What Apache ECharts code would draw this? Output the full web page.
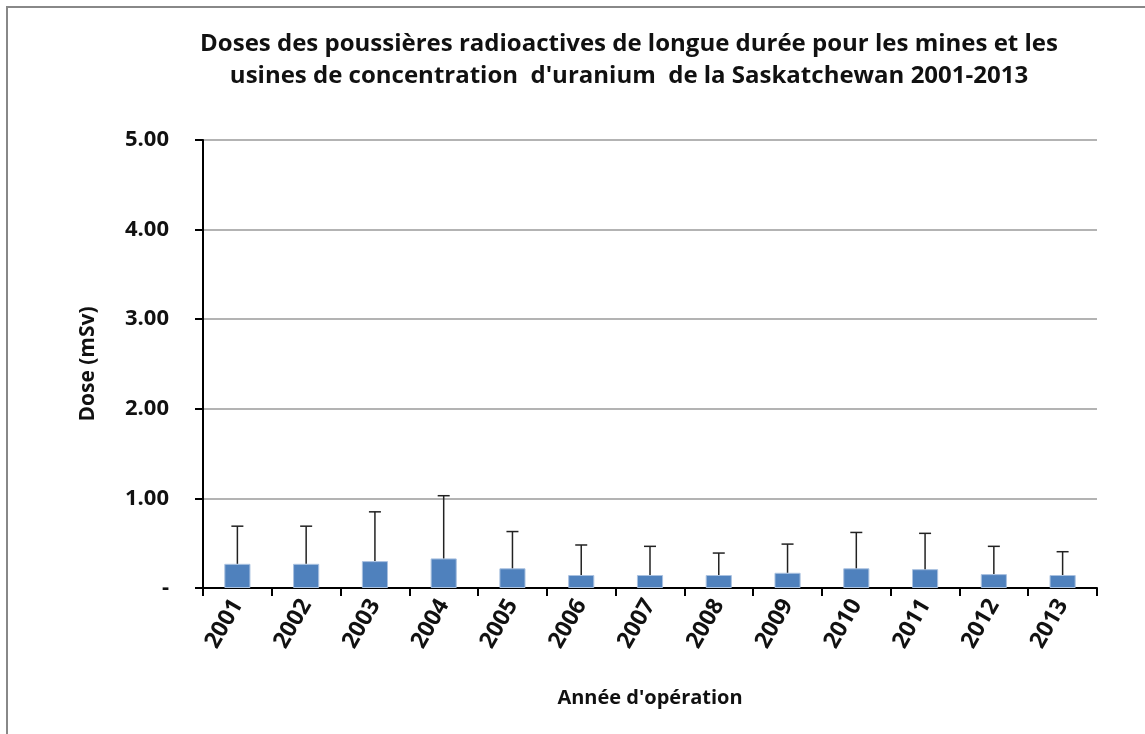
<!DOCTYPE html>
<html>
<head>
<meta charset="utf-8">
<script src="https://cdn.jsdelivr.net/npm/echarts@6/dist/echarts.min.js"></script>
<style>
  html, body { margin: 0; padding: 0; background: #fff; }
  #chart { width: 1145px; height: 734px; }
</style>
</head>
<body>
<div id="chart"></div>
<script>
// 年份
const years = ['2001', '2002', '2003', '2004', '2005', '2006', '2007', '2008', '2009', '2010', '2011', '2012', '2013']
// 平均剂量 (mSv)
const doses = [0.27, 0.27, 0.30, 0.33, 0.22, 0.145, 0.145, 0.145, 0.17, 0.22, 0.21, 0.155, 0.145]
// 误差线（向上的部分）
const errPlus = [0.42, 0.42, 0.55, 0.70, 0.41, 0.335, 0.32, 0.245, 0.32, 0.40, 0.40, 0.31, 0.26]
// y轴刻度
const yTicks = [0, 1, 2, 3, 4, 5]

const font = 'Open Sans'

const myChart = echarts.init(document.querySelector('#chart'))

const option = {
  animation: false,
  title: {
    text: 'Doses des poussières radioactives de longue durée pour les mines et les\nusines de concentration  d\'uranium  de la Saskatchewan 2001-2013',
    left: 624,
    textAlign: 'center',
    top: 23,
    textStyle: {
      fontFamily: font,
      fontWeight: 'bold',
      fontSize: 24,
      lineHeight: 32,
      color: '#111'
    }
  },
  // 外框
  graphic: [
    {
      type: 'rect',
      shape: { x: 7, y: 7, width: 1160, height: 760 },
      style: { fill: 'none', stroke: '#888', lineWidth: 2 }
    }
  ],
  grid: { left: 203, right: 48, top: 140, bottom: 146 },
  xAxis: {
    type: 'category',
    data: years,
    name: 'Année d\'opération',
    nameLocation: 'middle',
    nameGap: 100,
    nameTextStyle: { fontFamily: font, fontWeight: 'bold', fontSize: 20, color: '#111' },
    axisLine: { lineStyle: { color: '#000', width: 2 } },
    axisTick: { show: true, length: 8, lineStyle: { color: '#000', width: 2 } },
    axisLabel: {
      rotate: 60,
      margin: 13,
      fontFamily: font,
      fontWeight: 'bold',
      fontSize: 23,
      color: '#111'
    }
  },
  yAxis: {
    type: 'value',
    min: yTicks[0],
    max: yTicks[yTicks.length - 1],
    interval: 1,
    name: 'Dose (mSv)',
    nameLocation: 'middle',
    nameGap: 104,
    nameTextStyle: { fontFamily: font, fontWeight: 'bold', fontSize: 21, color: '#111' },
    axisLine: { show: true, lineStyle: { color: '#000', width: 2 } },
    axisTick: { show: true, length: 8, lineStyle: { color: '#000', width: 2 } },
    axisLabel: {
      margin: 34,
      fontFamily: font,
      fontWeight: 'bold',
      fontSize: 22,
      color: '#111',
      formatter: v => (v === 0 ? '-' : v.toFixed(2))
    },
    splitLine: { lineStyle: { color: '#9a9a9a', width: 1.5 } }
  },
  series: [
    {
      type: 'bar',
      data: doses,
      barWidth: '38%',
      itemStyle: { color: '#4F81BD', borderColor: '#a9c1e0', borderWidth: 1 }
    },
    {
      // 误差线
      type: 'custom',
      data: years.map((y, i) => [i, doses[i], doses[i] + errPlus[i]]),
      z: 5,
      renderItem: (params, api) => {
        const base = api.coord([api.value(0), api.value(1)])
        const top = api.coord([api.value(0), api.value(2)])
        const cap = 6
        return {
          type: 'group',
          children: [
            {
              type: 'line',
              shape: { x1: base[0], y1: base[1], x2: top[0], y2: top[1] },
              style: { stroke: '#222', lineWidth: 1.5 }
            },
            {
              type: 'line',
              shape: { x1: top[0] - cap, y1: top[1], x2: top[0] + cap, y2: top[1] },
              style: { stroke: '#222', lineWidth: 1.5 }
            }
          ]
        }
      }
    }
  ]
}

myChart.setOption(option)
</script>
</body>
</html>
